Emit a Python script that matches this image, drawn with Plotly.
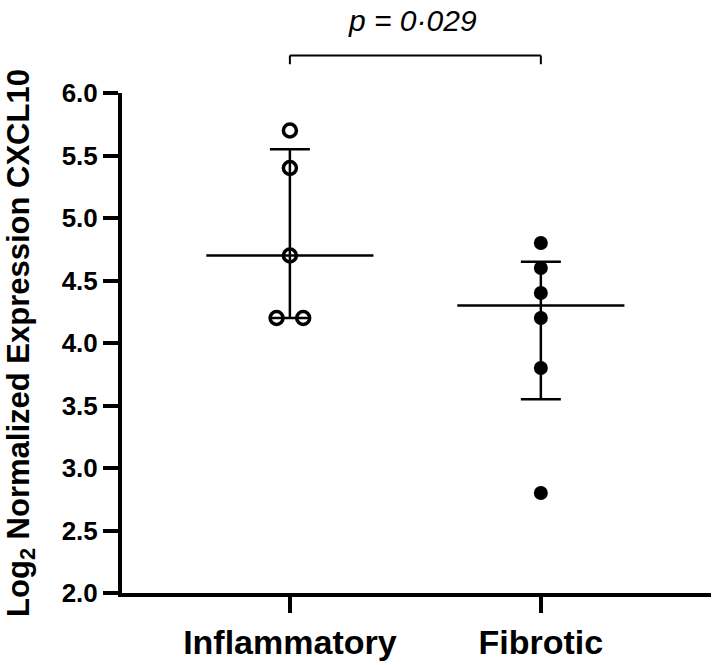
import plotly.graph_objects as go

# ---- data ----
categories = ["Inflammatory", "Fibrotic"]
inflammatory_values = [5.7, 5.4, 4.7, 4.2, 4.2]
inflammatory_jitter = [0.0, 0.0, 0.0, -0.053, 0.053]
fibrotic_values = [4.8, 4.6, 4.4, 4.2, 3.8, 2.8]
fibrotic_jitter = [0.0, 0.0, 0.0, 0.0, 0.0, 0.0]
medians = [4.7, 4.3]
q1 = [4.2, 3.55]
q3 = [5.55, 4.65]
p_text = "p = 0·029"
y_ticks = [2.0, 2.5, 3.0, 3.5, 4.0, 4.5, 5.0, 5.5, 6.0]
y_range = [2.0, 6.0]
bracket_top, bracket_bot, p_label_y = 6.30, 6.23, 6.58

FONT = "Liberation Sans, Arial, Helvetica, sans-serif"
BLACK = "#000000"


def y_paper(v):
    """map a data value on the y scale to paper coordinates (for items above the axis)"""
    return (v - y_range[0]) / (y_range[1] - y_range[0])


fig = go.Figure()

# median line + IQR error bars
fig.add_trace(go.Scatter(
    x=[0, 1], y=medians, mode="markers",
    marker=dict(size=1, color="rgba(0,0,0,0)"),
    error_x=dict(type="constant", value=0.333, color=BLACK, thickness=2.5, width=0),
    error_y=dict(type="data", symmetric=False,
                 array=[h - m for h, m in zip(q3, medians)],
                 arrayminus=[m - l for m, l in zip(medians, q1)],
                 color=BLACK, thickness=2.5, width=20),
    showlegend=False, hoverinfo="skip",
))

# individual points
fig.add_trace(go.Scatter(
    x=[0 + j for j in inflammatory_jitter], y=inflammatory_values, mode="markers",
    marker=dict(symbol="circle-open", size=13, color=BLACK, line=dict(width=3.5, color=BLACK)),
    showlegend=False, cliponaxis=False,
))
fig.add_trace(go.Scatter(
    x=[1 + j for j in fibrotic_jitter], y=fibrotic_values, mode="markers",
    marker=dict(symbol="circle", size=14, color=BLACK),
    showlegend=False, cliponaxis=False,
))

# significance bracket (above the plotting area)
for (x0, y0, x1, y1) in [(0, bracket_bot, 0, bracket_top),
                         (0, bracket_top, 1, bracket_top),
                         (1, bracket_top, 1, bracket_bot)]:
    fig.add_shape(type="line", xref="x", yref="paper",
                  x0=x0, x1=x1, y0=y_paper(y0), y1=y_paper(y1),
                  line=dict(color=BLACK, width=2))
fig.add_annotation(x=0.49, y=y_paper(p_label_y), xref="x", yref="paper", text=p_text,
                   showarrow=False, xanchor="center", yanchor="middle",
                   font=dict(family=FONT, size=30, color=BLACK, style="italic"))

fig.update_layout(
    width=715, height=665,
    margin=dict(l=122, r=4, t=93, b=67),
    paper_bgcolor="white", plot_bgcolor="white",
    font=dict(family=FONT, color=BLACK),
    xaxis=dict(
        range=[-0.669, 1.678], tickvals=[0, 1], ticktext=categories,
        showgrid=False, zeroline=False, showline=True, linewidth=4, linecolor=BLACK,
        ticks="outside", ticklen=16, tickwidth=3.5, tickcolor=BLACK,
        tickfont=dict(family=FONT, size=34, color=BLACK, weight="bold"),
    ),
    yaxis=dict(
        range=y_range, tickvals=y_ticks, ticktext=[f"{v:.1f}" for v in y_ticks],
        showgrid=False, zeroline=False, showline=True, linewidth=4, linecolor=BLACK,
        ticks="outside", ticklen=15, tickwidth=3.5, tickcolor=BLACK,
        tickfont=dict(family=FONT, size=26, color=BLACK, weight="bold"),
        title=dict(text="Log<sub>2</sub> Normalized Expression CXCL10",
                   font=dict(family=FONT, size=31, color=BLACK, weight="bold"),
                   standoff=24),
    ),
)

fig.write_html("out.html",
               config={"displayModeBar": False},
               post_script="document.body.style.margin='0';document.body.style.overflow='hidden';")
